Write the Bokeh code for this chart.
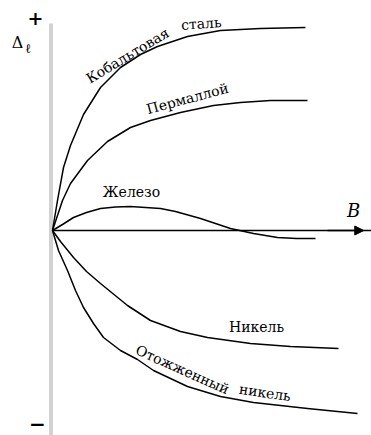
import math
from bokeh.plotting import figure
from bokeh.models import Arrow, NormalHead
from bokeh.core.properties import value
from bokeh.embed import file_html
from bokeh.resources import INLINE

# Magnetostriction curves: relative elongation Δℓ versus induction B (arbitrary units)
cobalt_b = [0, 0.2, 0.44, 0.72, 1.24, 1.92, 2.72, 3.52, 4.2, 5.4, 6.72, 8.32, 10.12]
cobalt_dl = [0, 1.5, 3.15, 4.25, 5.8, 7.15, 8.15, 8.8, 9.2, 9.7, 10.0, 10.1, 10.15]

permalloy_b = [0, 0.16, 0.4, 0.72, 1.4, 2.2, 3.12, 3.92, 5.12, 6.44, 7.52, 8.72, 10.2]
permalloy_dl = [0, 0.6, 1.5, 2.35, 3.5, 4.45, 5.15, 5.5, 5.9, 6.25, 6.4, 6.5, 6.5]

iron_b = [0, 0.4, 0.84, 1.36, 1.92, 2.52, 3.12, 3.72, 4.32, 4.92, 5.92, 7.12, 8.04, 9.0, 9.76, 10.52]
iron_dl = [0, 0.3, 0.65, 0.9, 1.1, 1.18, 1.2, 1.15, 1.1, 0.95, 0.6, 0.1, -0.15, -0.35, -0.4, -0.4]

nickel_b = [0, 0.32, 0.84, 1.36, 1.92, 3.0, 3.92, 5.12, 6.2, 7.92, 9.52, 11.44]
nickel_dl = [0, -0.55, -1.35, -2.05, -2.65, -3.75, -4.5, -5.05, -5.35, -5.65, -5.8, -5.9]

annealed_b = [0, 0.24, 0.6, 0.92, 1.24, 1.64, 2.04, 2.72, 3.4, 4.04, 5.4, 6.72, 8.04, 10.2, 12.2]
annealed_dl = [0, -1.0, -2.0, -3.0, -3.85, -4.65, -5.35, -6.0, -6.45, -7.0, -7.8, -8.3, -8.6, -8.9, -9.15]

curves = [
    (cobalt_b, cobalt_dl),
    (permalloy_b, permalloy_dl),
    (iron_b, iron_dl),
    (nickel_b, nickel_dl),
    (annealed_b, annealed_dl),
]

# curve labels: text, B, Δℓ, angle in degrees
labels = [
    ("Кобальтовая", 3.0, 8.75, 31),
    ("сталь", 5.95, 10.35, 4),
    ("Пермаллой", 5.4, 6.6, 15),
    ("Железо", 3.16, 1.95, 0),
    ("Никель", 8.16, -4.8, 0),
    ("Отожженный", 5.2, -6.95, -24),
    ("никель", 8.5, -8.1, -8),
]

SERIF = "DejaVu Serif"

p = figure(width=371, height=435, x_range=(-2.08, 12.76), y_range=(-10.25, 11.5),
           output_backend="svg", toolbar_location=None, min_border=0)
p.axis.visible = False
p.grid.visible = False
p.outline_line_color = None
p.background_fill_color = "white"
p.border_fill_color = "white"

# vertical Δℓ axis (light grey bar)
p.line([-0.06, -0.06], [10.35, -10.6], line_color="#d2d2d2", line_width=4)

# horizontal B axis with arrow
p.line([0, 12.76], [0, 0], line_color="black", line_width=1.6)
p.add_layout(Arrow(end=NormalHead(size=9, fill_color="black", line_color="black"),
                   x_start=11.0, y_start=0, x_end=12.45, y_end=0,
                   line_color="black", line_width=1.6))

for bx, dy in curves:
    p.line(bx, dy, line_color="black", line_width=1.5, line_join="round")

for txt, bx, dy, ang in labels:
    p.text(x=[bx], y=[dy], text=[txt], angle=math.radians(ang),
           text_font=value(SERIF), text_font_size="14px", text_color="black",
           text_align="center", text_baseline="middle")

# axis annotations
p.text(x=[-1.4], y=[9.4], text=["Δ"], text_font=value(SERIF), text_font_size="16px",
       text_align="center", text_baseline="middle")
p.text(x=[-0.98], y=[9.1], text=["ℓ"], text_font=value(SERIF), text_font_size="13px",
       text_align="center", text_baseline="middle")
p.text(x=[-0.68], y=[10.65], text=["+"], text_font=value(SERIF), text_font_size="19px",
       text_font_style="bold", text_align="center", text_baseline="middle")
p.text(x=[-0.6], y=[-9.65], text=["−"], text_font=value(SERIF), text_font_size="20px",
       text_font_style="bold", text_align="center", text_baseline="middle")
p.text(x=[12.04], y=[1.0], text=["B"], text_font=value(SERIF), text_font_size="18px",
       text_font_style="italic", text_align="center", text_baseline="middle")

open("out.html", "w").write(file_html(p, INLINE))
